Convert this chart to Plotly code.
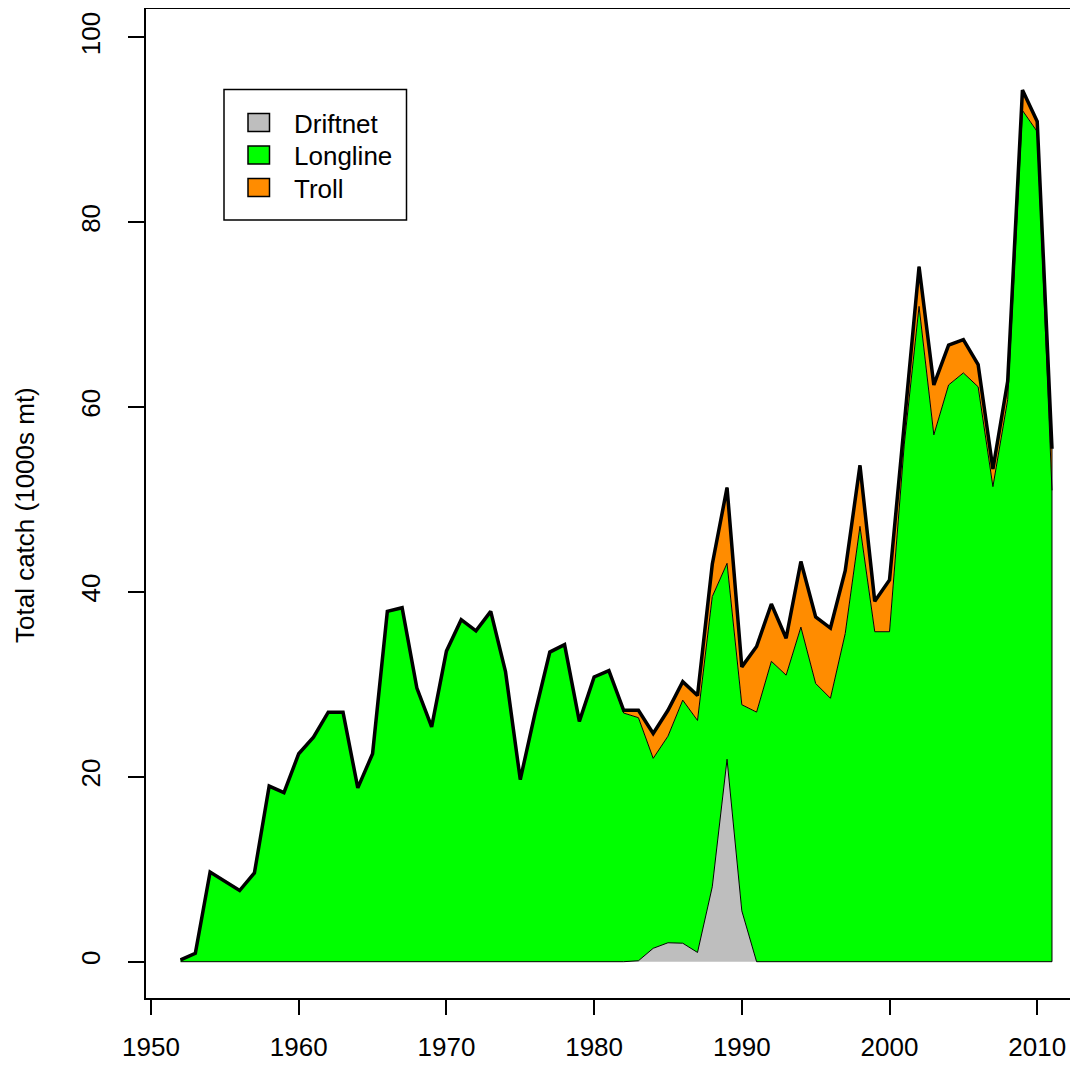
import plotly.graph_objects as go

years = list(range(1952, 2012))

# driftnet catch (1000s mt)
driftnet = [0] * 31 + [0.1, 1.45, 2.05, 2.0, 1.0, 8.1, 21.9, 5.5] + [0] * 21

# top of the longline band (driftnet + longline)
green_top = [
    0.2, 0.9, 9.7, 8.7, 7.7, 9.6, 19.0, 18.3, 22.5, 24.3,
    27.0, 27.0, 18.8, 22.5, 37.9, 38.3, 29.6, 25.4, 33.6, 37.0,
    35.8, 37.9, 31.4, 19.7, 26.9, 33.5, 34.3, 26.0, 30.8, 31.5,
    26.9, 26.4, 22.0, 24.4, 28.3, 26.1, 39.5, 43.1, 27.8, 27.0,
    32.5, 31.0, 36.2, 30.1, 28.5, 35.5, 47.1, 35.7, 35.7, 56.0,
    70.9, 57.0, 62.4, 63.7, 62.2, 51.4, 60.8, 92.1, 89.8, 51.0,
]

# total catch (all gears)
total = [
    0.2, 0.9, 9.7, 8.7, 7.7, 9.6, 19.0, 18.3, 22.5, 24.3,
    27.0, 27.0, 18.8, 22.5, 37.9, 38.3, 29.6, 25.4, 33.6, 37.0,
    35.8, 37.9, 31.4, 19.7, 26.9, 33.5, 34.3, 26.0, 30.8, 31.5,
    27.2, 27.2, 24.7, 27.2, 30.3, 28.8, 43.0, 51.3, 31.9, 34.1,
    38.7, 35.0, 43.3, 37.3, 36.1, 42.3, 53.7, 39.0, 41.3, 58.2,
    75.2, 62.4, 66.7, 67.3, 64.6, 53.3, 62.8, 94.3, 90.9, 55.5,
]

longline = [round(g - d, 2) for g, d in zip(green_top, driftnet)]
troll = [round(t - g, 2) for t, g in zip(total, green_top)]

gears = ["Driftnet", "Longline", "Troll"]
colors = ["#BEBEBE", "#00FF00", "#FF8C00"]
series = [driftnet, longline, troll]

FONT = "Liberation Sans, Arial, sans-serif"
OFF = 8  # page body margin of the browser
W, H = 1078 - OFF, 1066 - OFF
# plot area in window pixels: left 146, top 9, bottom 998, right = window edge
L, T, B = 146 - OFF, 9 - OFF, H - (998 - OFF)
PW, PH = W - L, H - T - B
PXY = 9.243  # pixels per 1000 mt
Y0 = 961.7   # window pixel of y = 0


def px(x):
    return (x - OFF - L) / PW


def py(y):
    return (H - B - (y - OFF)) / PH


fig = go.Figure()
for name, col, vals in zip(gears, colors, series):
    fig.add_trace(
        go.Scatter(
            x=years,
            y=vals,
            name=name,
            stackgroup="catch",
            mode="lines",
            line=dict(color="black", width=1),
            fillcolor=col,
            showlegend=False,
        )
    )

# closing edge of the polygons at the last year
fig.add_trace(
    go.Scatter(
        x=[years[-1], years[-1]],
        y=[0, total[-1]],
        mode="lines",
        line=dict(color="black", width=1),
        showlegend=False,
    )
)

# total catch line
fig.add_trace(
    go.Scatter(
        x=years,
        y=total,
        mode="lines",
        line=dict(color="black", width=3.5),
        showlegend=False,
    )
)

# legend drawn by hand (R style)
shapes = [
    dict(type="rect", xref="paper", yref="paper",
         x0=px(224), x1=px(406.5), y0=py(89.5), y1=py(220),
         line=dict(color="black", width=1.5), fillcolor="white", layer="above"),
]
annotations = []
for k, (name, col) in enumerate(zip(gears, colors)):
    cy = 122.5 + 32.5 * k
    shapes.append(
        dict(type="rect", xref="paper", yref="paper",
             x0=px(248), x1=px(269.5), y0=py(cy - 9), y1=py(cy + 9),
             line=dict(color="black", width=1.5), fillcolor=col, layer="above")
    )
    annotations.append(
        dict(text=name, xref="paper", yref="paper", x=px(292), y=py(cy + 1),
             xanchor="left", yanchor="middle", showarrow=False,
             font=dict(family=FONT, size=26, color="black"))
    )

annotations.append(
    dict(text="Total catch (1000s mt)", xref="paper", yref="paper",
         x=px(25), y=py(515), textangle=-90, showarrow=False,
         xanchor="center", yanchor="middle",
         font=dict(family=FONT, size=26, color="black"))
)

ylo = -(998 - Y0) / PXY
yhi = ylo + PH / PXY

fig.update_layout(
    width=W,
    height=H,
    margin=dict(l=L, r=0, t=T, b=B, pad=0),
    paper_bgcolor="white",
    plot_bgcolor="white",
    showlegend=False,
    shapes=shapes,
    annotations=annotations,
    xaxis=dict(
        range=[1949.66, 1949.66 + PW / 14.77],
        tickvals=[1950, 1960, 1970, 1980, 1990, 2000, 2010],
        ticks="outside",
        ticklen=15,
        tickwidth=1.5,
        tickcolor="black",
        showgrid=False,
        zeroline=False,
        showline=True,
        mirror=True,
        linecolor="black",
        linewidth=1.5,
        tickfont=dict(family=FONT, size=26, color="black"),
        ticklabelstandoff=10,
    ),
    yaxis=dict(
        range=[ylo, yhi],
        tickvals=[0, 20, 40, 60, 80, 100],
        tickangle=-90,
        ticks="outside",
        ticklen=16,
        tickwidth=1.5,
        tickcolor="black",
        showgrid=False,
        zeroline=False,
        showline=True,
        linecolor="black",
        linewidth=1.5,
        tickfont=dict(family=FONT, size=26, color="black"),
        ticklabelstandoff=18,
    ),
)

fig.write_html("out.html")
